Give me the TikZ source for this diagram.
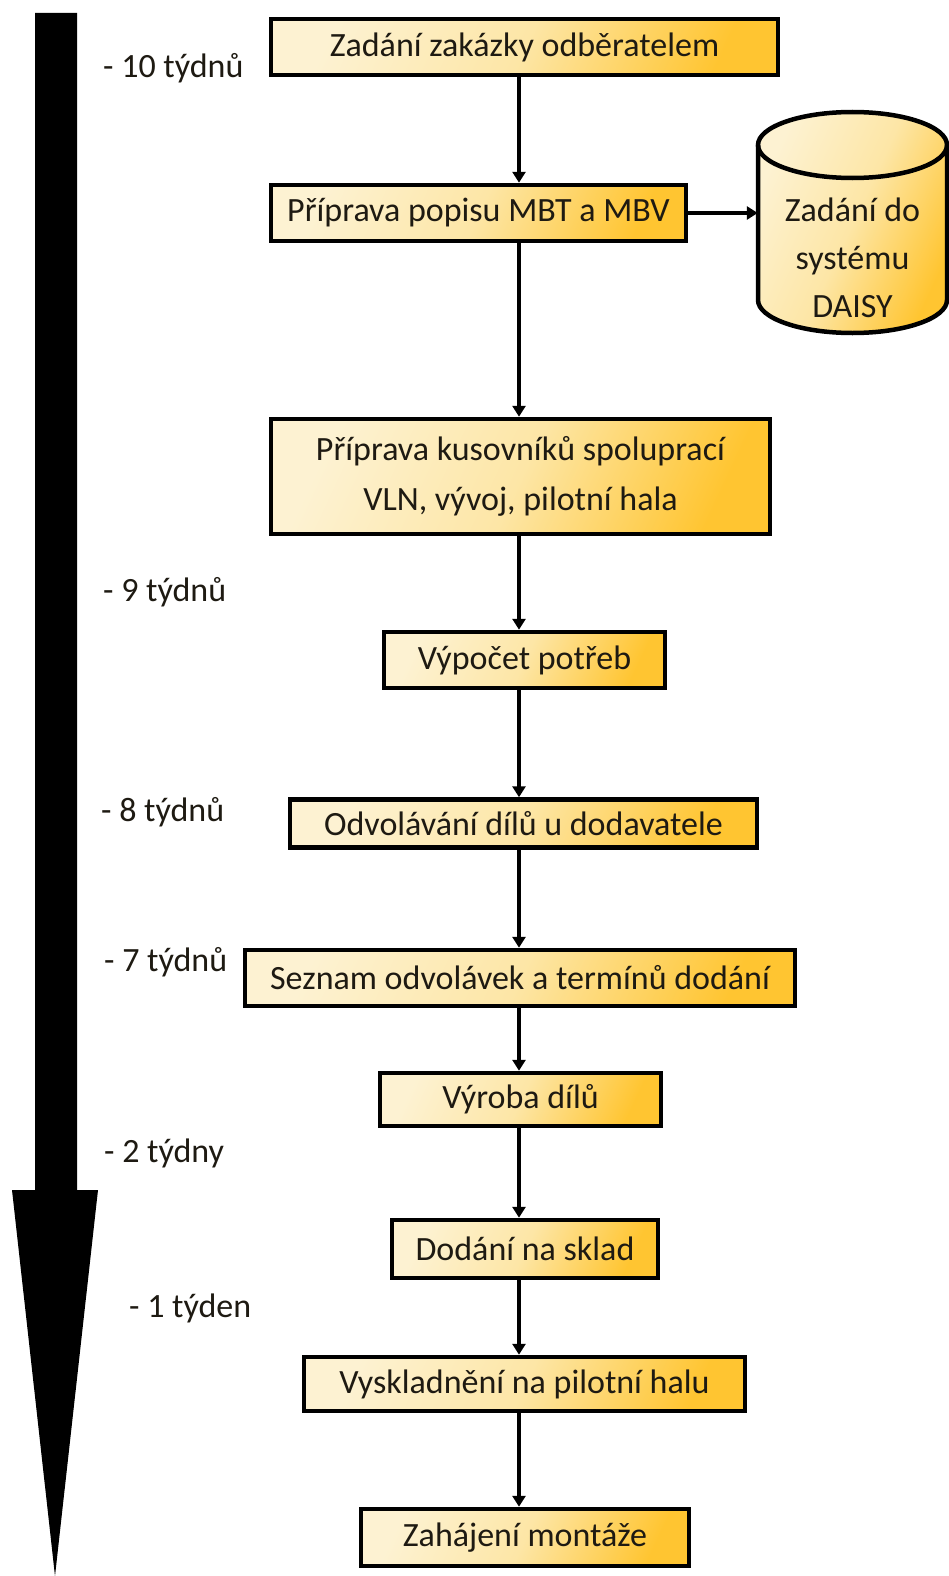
\documentclass[tikz,border=0pt]{standalone}
\usepackage{fontspec}
\setmainfont{Carlito}
\usetikzlibrary{arrows.meta,calc}
\definecolor{cream}{HTML}{FDF2D2}
\definecolor{midgold}{HTML}{FDE6A6}
\definecolor{gold}{HTML}{FFC531}
\definecolor{txt}{HTML}{1E1A12}
\tikzset{
  boxfill/.style={left color=cream, right color=gold, middle color=midgold, shading angle=65},
  procbox/.style={draw=black, line width=4.5pt, boxfill, inner sep=0pt, align=center,
    font=\fontsize{34}{50}\selectfont, text=txt},
  conn/.style={line width=3.2pt, -{Triangle[width=13pt,length=11pt]}},
  lbl/.style={anchor=west, inner sep=0pt, font=\fontsize{34}{40}\selectfont, text=txt}
}
\begin{document}
\begin{tikzpicture}[x=1pt,y=-1pt]
\useasboundingbox (0,0) rectangle (949,1576);
% timeline arrow
\fill[black] (35,13) -- (77,13) -- (77,1190) -- (98,1190) -- (55,1576) -- (12,1190) -- (35,1190) -- cycle;
% labels
\node[lbl] (l10) at (103,68) {- 10 týdnů};
\node[lbl] (l9) at (103,592) {- 9 týdnů};
\node[lbl] (l8) at (101,812) {- 8 týdnů};
\node[lbl] (l7) at (104,962) {- 7 týdnů};
\node[lbl] (l2) at (104,1153) {- 2 týdny};
\node[lbl] (l1) at (129,1308) {- 1 týden};
% boxes
\node[procbox, minimum width=507pt, minimum height=56pt] (b1) at (524.5,47) {Zadání zakázky odběratelem};
\node[procbox, minimum width=415pt, minimum height=56pt] (b2) at (478.5,213) {Příprava popisu MBT a MBV};
\node[procbox, minimum width=499pt, minimum height=115pt] (b3) at (520.5,476.5) {Příprava kusovníků spoluprací\\VLN, vývoj, pilotní hala};
\node[procbox, minimum width=281pt, minimum height=56pt] (b4) at (524.5,660) {Výpočet potřeb};
\node[procbox, minimum width=467pt, minimum height=48pt] (b5) at (523.5,823.5) {Odvolávání dílů u dodavatele};
\node[procbox, minimum width=550pt, minimum height=56pt] (b6) at (520,978) {Seznam odvolávek a termínů dodání};
\node[procbox, minimum width=281pt, minimum height=53pt] (b7) at (520.5,1099.5) {Výroba dílů};
\node[procbox, minimum width=266pt, minimum height=58pt] (b8) at (525,1249) {Dodání na sklad};
\node[procbox, minimum width=441pt, minimum height=54pt] (b9) at (524.5,1384) {Vyskladnění na pilotní halu};
\node[procbox, minimum width=328pt, minimum height=57pt] (b10) at (525,1537.5) {Zahájení montáže};
% cylinder
\path[boxfill] (758,145) -- (758,300) arc[start angle=180,end angle=360,x radius=94.5,y radius=-33] -- (947,145) arc[start angle=0,end angle=180,x radius=94.5,y radius=-33] -- cycle;
\draw[line width=4.5pt] (758,145) -- (758,300) arc[start angle=180,end angle=360,x radius=94.5,y radius=-33] -- (947,145);
\draw[line width=4.5pt] (852.5,145) ellipse[x radius=94.5, y radius=33];
\node[inner sep=0pt, align=center, font=\fontsize{34}{48}\selectfont, text=txt, minimum width=189pt, minimum height=180pt] (cyl) at (852.5,258) {Zadání do\\systému\\DAISY};
% connectors
\coordinate (cx) at (519,0);
\draw[conn] (b1.south -| cx) -- (b2.north -| cx);
\draw[conn] (b2.south -| cx) -- (b3.north -| cx);
\draw[conn] (b3.south -| cx) -- (b4.north -| cx);
\draw[conn] (b4.south -| cx) -- (b5.north -| cx);
\draw[conn] (b5.south -| cx) -- (b6.north -| cx);
\draw[conn] (b6.south -| cx) -- (b7.north -| cx);
\draw[conn] (b7.south -| cx) -- (b8.north -| cx);
\draw[conn] (b8.south -| cx) -- (b9.north -| cx);
\draw[conn] (b9.south -| cx) -- (b10.north -| cx);
\draw[conn] (b2.east) -- (b2.east -| cyl.west);
\end{tikzpicture}
\end{document}
